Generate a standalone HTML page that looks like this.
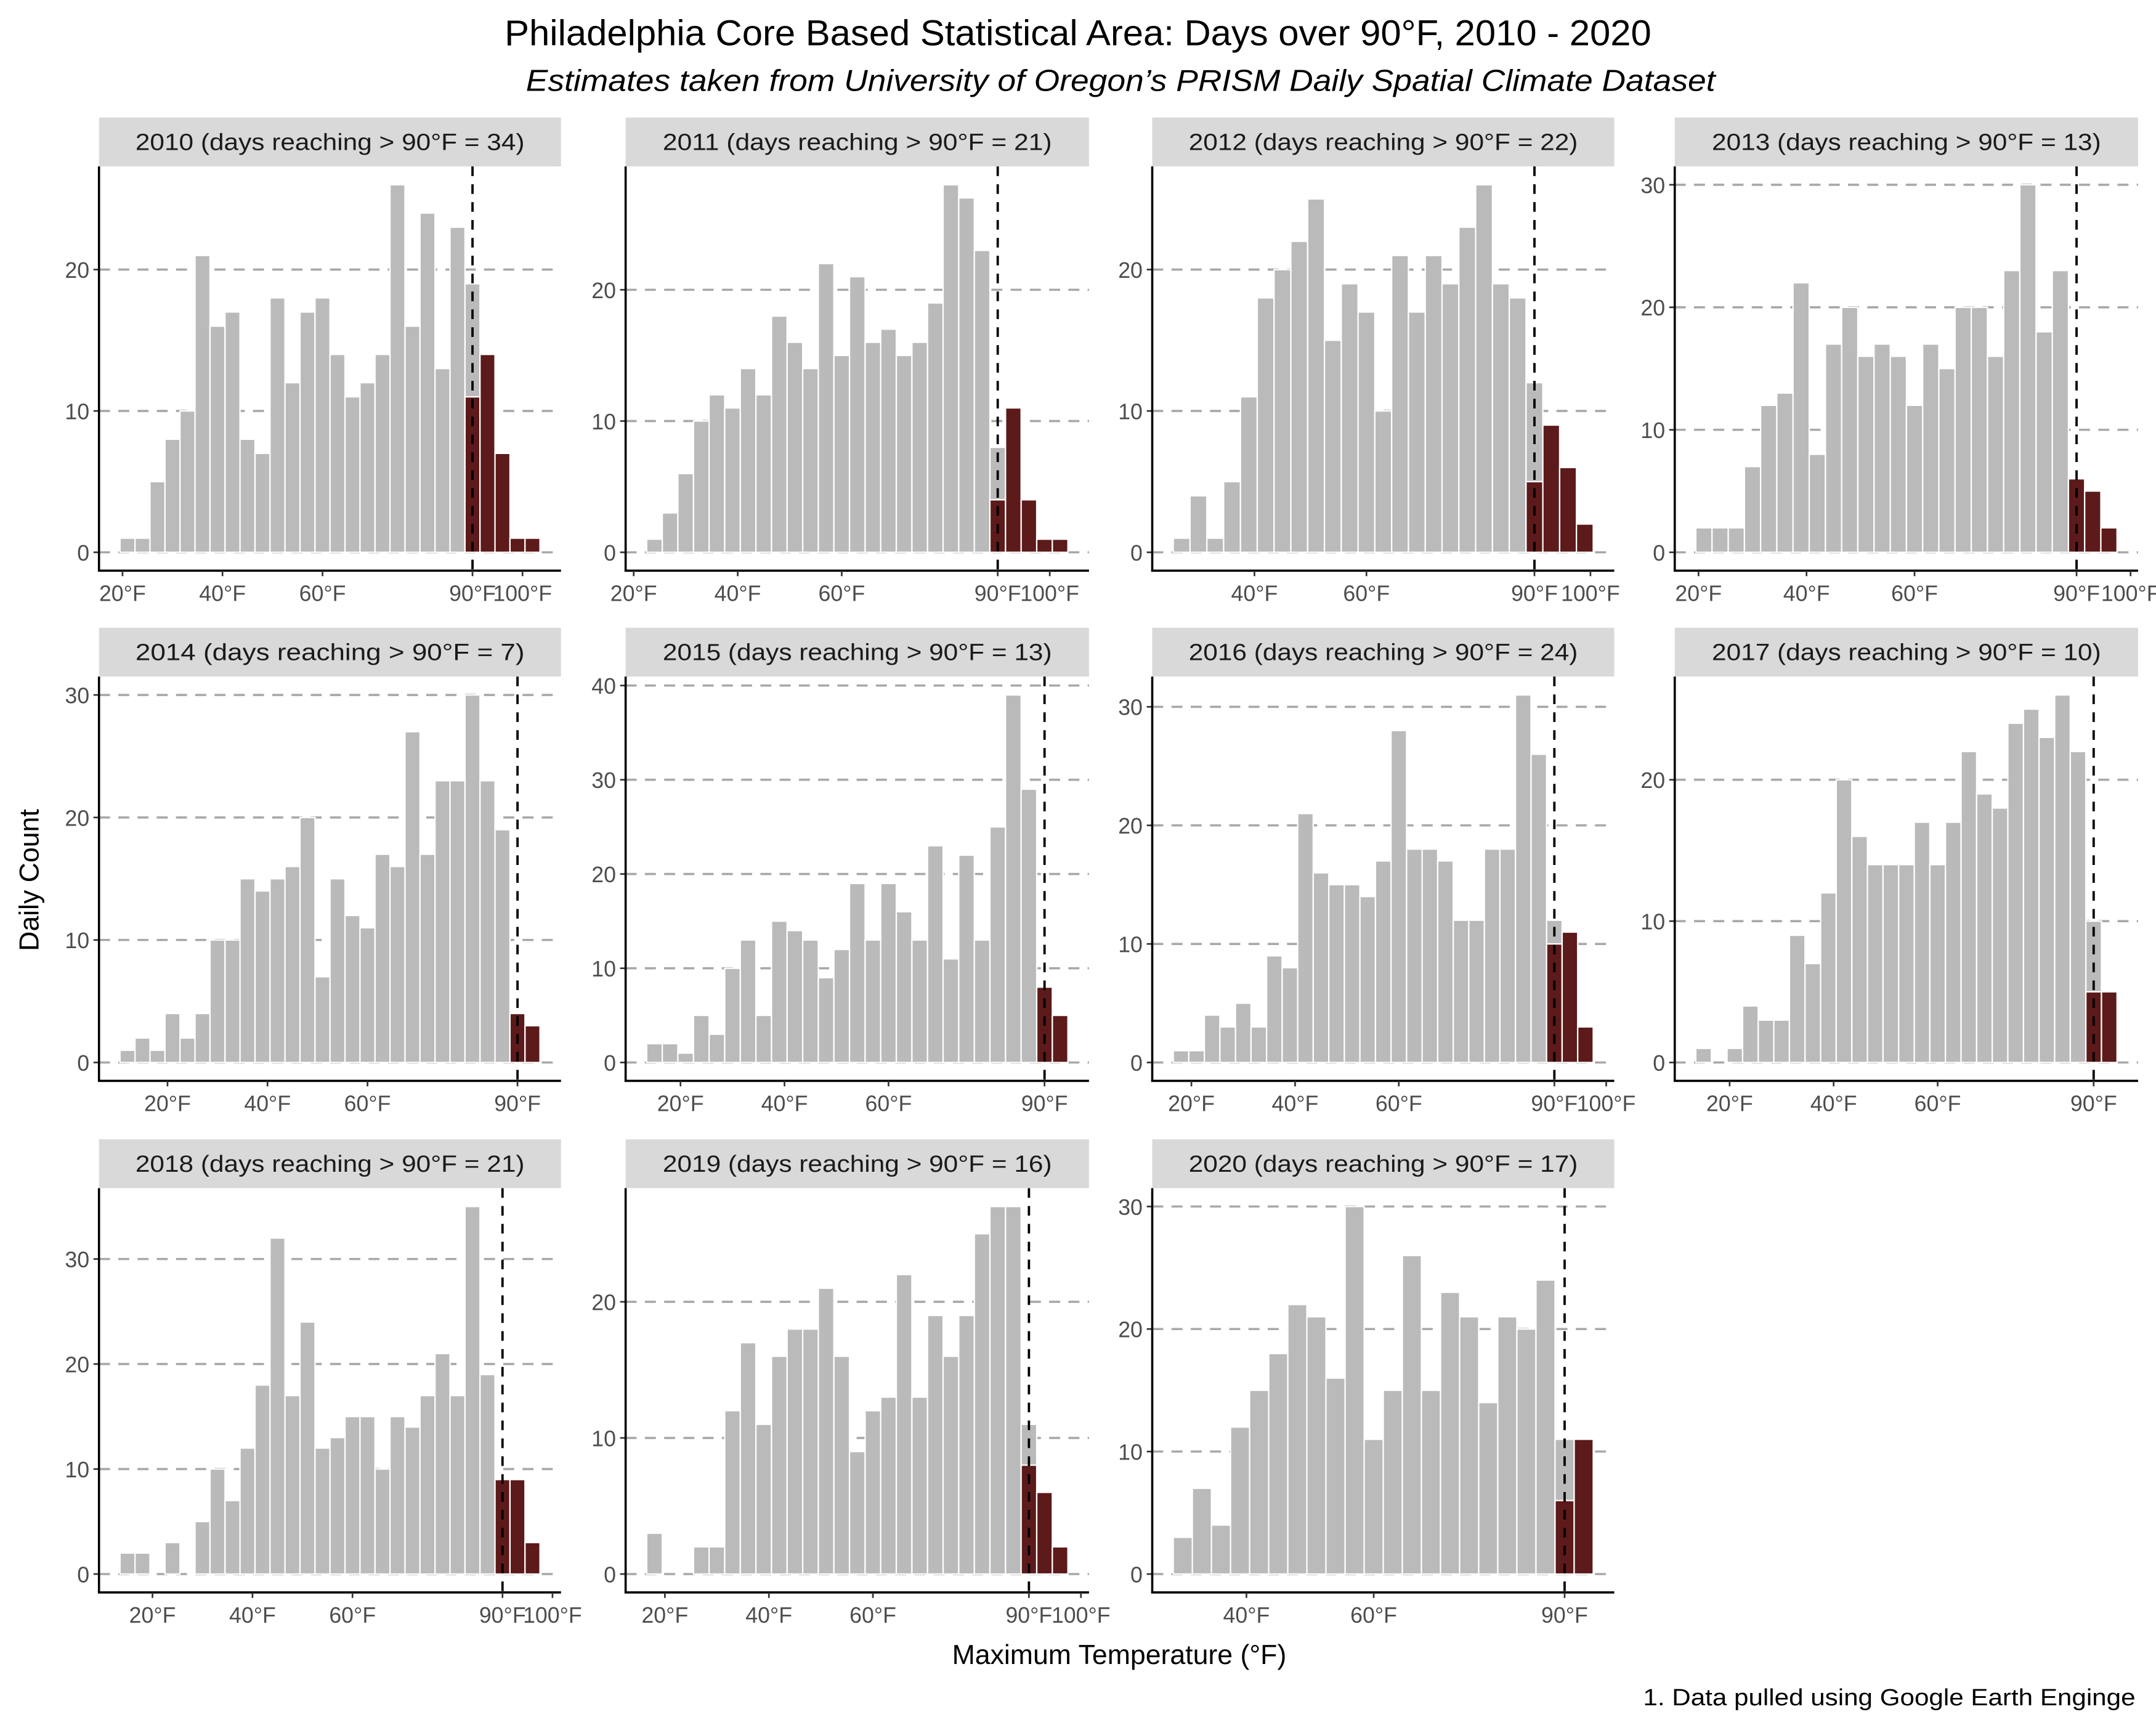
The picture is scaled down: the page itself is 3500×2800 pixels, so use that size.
<!DOCTYPE html>
<html><head><meta charset="utf-8"><title>Philadelphia Days over 90°F</title>
<style>
html,body{margin:0;padding:0;background:#fff;}
svg{display:block;font-family:"Liberation Sans",Arial,sans-serif;}
</style></head>
<body>
<svg id="chart" width="3500" height="2800" viewBox="0 0 1568 1254.4" xmlns="http://www.w3.org/2000/svg">
<rect x="0" y="0" width="1568" height="1254.4" fill="#fff"/>
<text x="784" y="33" text-anchor="middle" font-size="26" fill="#000" textLength="834" lengthAdjust="spacingAndGlyphs">Philadelphia Core Based Statistical Area: Days over 90°F, 2010 - 2020</text>
<text x="815" y="66" text-anchor="middle" font-size="22" font-style="italic" fill="#000" textLength="865" lengthAdjust="spacingAndGlyphs">Estimates taken from University of Oregon’s PRISM Daily Spatial Climate Dataset</text>
<text transform="translate(28,640) rotate(-90)" text-anchor="middle" font-size="20" fill="#000">Daily Count</text>
<text x="814" y="1210" text-anchor="middle" font-size="20" fill="#000">Maximum Temperature (°F)</text>
<text x="1553" y="1240" text-anchor="end" font-size="17" fill="#000" textLength="358" lengthAdjust="spacingAndGlyphs">1. Data pulled using Google Earth Enginge</text>
<g id="panels"></g>
</svg>
<script>
// ---- data (bin width 3°F; gray bins start at grayStart center, dark bins start at 90) ----
const years = [2010,2011,2012,2013,2014,2015,2016,2017,2018,2019,2020];
const daysOver90 = [34,21,22,13,7,13,24,10,21,16,17];
const grayStart = [21,24,27,21,12,15,18,15,15,18,30];
const gray2010 = [1,1,5,8,10,21,16,17,8,7,18,12,17,18,14,11,12,14,26,16,24,13,23,19];
const gray2011 = [1,3,6,10,12,11,14,12,18,16,14,22,15,21,16,17,15,16,19,28,27,23,8];
const gray2012 = [1,4,1,5,11,18,20,22,25,15,19,17,10,21,17,21,19,23,26,19,18,12];
const gray2013 = [2,2,2,7,12,13,22,8,17,20,16,17,16,12,17,15,20,20,16,23,30,18,23];
const gray2014 = [1,2,1,4,2,4,10,10,15,14,15,16,20,7,15,12,11,17,16,27,17,23,23,30,23,19];
const gray2015 = [2,2,1,5,3,10,13,5,15,14,13,9,12,19,13,19,16,13,23,11,22,13,25,39,29];
const gray2016 = [1,1,4,3,5,3,9,8,21,16,15,15,14,17,28,18,18,17,12,12,18,18,31,26,12];
const gray2017 = [1,0,1,4,3,3,9,7,12,20,16,14,14,14,17,14,17,22,19,18,24,25,23,26,22,10];
const gray2018 = [2,2,0,3,0,5,10,7,12,18,32,17,24,12,13,15,15,10,15,14,17,21,17,35,19,9];
const gray2019 = [3,0,0,2,2,12,17,11,16,18,18,21,16,9,12,13,22,13,19,16,19,25,27,27,11];
const gray2020 = [3,7,4,12,15,18,22,21,16,30,11,15,26,15,23,21,14,21,20,24,11];
const dark2010 = [11,14,7,1,1];
const dark2011 = [4,11,4,1,1];
const dark2012 = [5,9,6,2];
const dark2013 = [6,5,2];
const dark2014 = [4,3];
const dark2015 = [8,5];
const dark2016 = [10,11,3];
const dark2017 = [5,5];
const dark2018 = [9,9,3];
const dark2019 = [8,6,2];
const dark2020 = [6,11];
const grayCounts = [gray2010,gray2011,gray2012,gray2013,gray2014,gray2015,gray2016,gray2017,gray2018,gray2019,gray2020];
const darkCounts = [dark2010,dark2011,dark2012,dark2013,dark2014,dark2015,dark2016,dark2017,dark2018,dark2019,dark2020];
const xTicks = [20,40,60,90,100];
const xTickLabels = ["20°F","40°F","60°F","90°F","100°F"];
const binWidth = 3;
const darkStart = 90;
const threshold = 90;

// ---- layout ----
const colX = [[72,408],[455,792],[838,1174],[1218,1555]];
const rowY = [[121,415],[492,786],[864,1158]];
const NS = "http://www.w3.org/2000/svg";
const root = document.getElementById('panels');
function mk(tag, attrs, parent){
  const e = document.createElementNS(NS, tag);
  for (const k in attrs) e.setAttribute(k, attrs[k]);
  (parent||root).appendChild(e);
  return e;
}

years.forEach((yr, i) => {
  const col = i % 4, row = Math.floor(i / 4);
  const [x0, x1] = colX[col];
  const [y0, y1] = rowY[row];
  const g = mk('g', {});
  
  

  const gs = grayCounts[i], ds = darkCounts[i];
  const gStart = grayStart[i];
  const lo = gStart - binWidth/2;
  const hi = darkStart + (ds.length - 1) * binWidth + binWidth/2;
  const hiAll = Math.max(hi, gStart + (gs.length-1)*binWidth + binWidth/2);
  const rng = hiAll - lo;
  const dMin = lo - 0.05*rng, dMax = hiAll + 0.05*rng;
  const xs = v => x0 + (v - dMin) / (dMax - dMin) * (x1 - x0);
  const ymax = Math.max(Math.max(...gs), Math.max(...ds));
  const yMin = -0.05*ymax, yMaxD = ymax*1.05;
  const ys = v => y1 - (v - yMin) / (yMaxD - yMin) * (y1 - y0);

  // strip
  const strip = mk('rect', {x:x0, y:y0-35.5, width:x1-x0, height:35.5, fill:'#d9d9d9'}, g);
  
  
  const st = mk('text', {x:(x0+x1)/2, y:y0-12, 'text-anchor':'middle', 'font-size':'17', fill:'#1a1a1a', textLength:'283', lengthAdjust:'spacingAndGlyphs'}, g);
  st.textContent = yr + ' (days reaching > 90°F = ' + daysOver90[i] + ')';
  
  

  // gridlines + y ticks
  for (let t = 0; t <= yMaxD; t += 10) {
    const yy = ys(t);
    const gl = mk('line', {x1:x0, x2:x1, y1:yy, y2:yy, stroke:'#a8a8a8', 'stroke-width':'1.6', 'stroke-dasharray':'8 6'}, g);
    
    
    const tk = mk('line', {x1:x0-4, x2:x0, y1:yy, y2:yy, stroke:'#333', 'stroke-width':'1.2'}, g);
    
    
    const tl = mk('text', {x:x0-7, y:yy+6, 'text-anchor':'end', 'font-size':'16', fill:'#4d4d4d'}, g);
    tl.textContent = t;
    
    
  }

  // gray bars
  gs.forEach((c, k) => {
    if (c <= 0) return;
    const cx = gStart + k*binWidth;
    const r = mk('rect', {x:xs(cx-binWidth/2), y:ys(c), width:xs(cx+binWidth/2)-xs(cx-binWidth/2), height:ys(0)-ys(c), fill:'#bababa', stroke:'#fff', 'stroke-width':'1'}, g);
    
    
  });
  // dark bars
  ds.forEach((c, k) => {
    if (c <= 0) return;
    const cx = darkStart + k*binWidth;
    const r = mk('rect', {x:xs(cx-binWidth/2), y:ys(c), width:xs(cx+binWidth/2)-xs(cx-binWidth/2), height:ys(0)-ys(c), fill:'#5c1a1a', stroke:'#fff', 'stroke-width':'1'}, g);
    
    
  });

  // threshold line
  const vx = xs(threshold);
  const vl = mk('line', {x1:vx, x2:vx, y1:y0, y2:y1, stroke:'#000', 'stroke-width':'1.7', 'stroke-dasharray':'7 6'}, g);
  
  

  // axes
  const ya = mk('line', {x1:x0, x2:x0, y1:y0, y2:y1, stroke:'#000', 'stroke-width':'1.6'}, g);
  
  
  const xa = mk('line', {x1:x0-0.8, x2:x1, y1:y1, y2:y1, stroke:'#000', 'stroke-width':'1.6'}, g);
  
  

  // x ticks
  xTicks.forEach((t, k) => {
    if (t < dMin || t > dMax) return;
    const xx = xs(t);
    const tk = mk('line', {x1:xx, x2:xx, y1:y1, y2:y1+4, stroke:'#333', 'stroke-width':'1.2'}, g);
    
    
    const tl = mk('text', {x:xx, y:y1+22, 'text-anchor':'middle', 'font-size':'16', fill:'#4d4d4d'}, g);
    tl.textContent = xTickLabels[k];
    
    
  });
});
</script>
</body></html>
